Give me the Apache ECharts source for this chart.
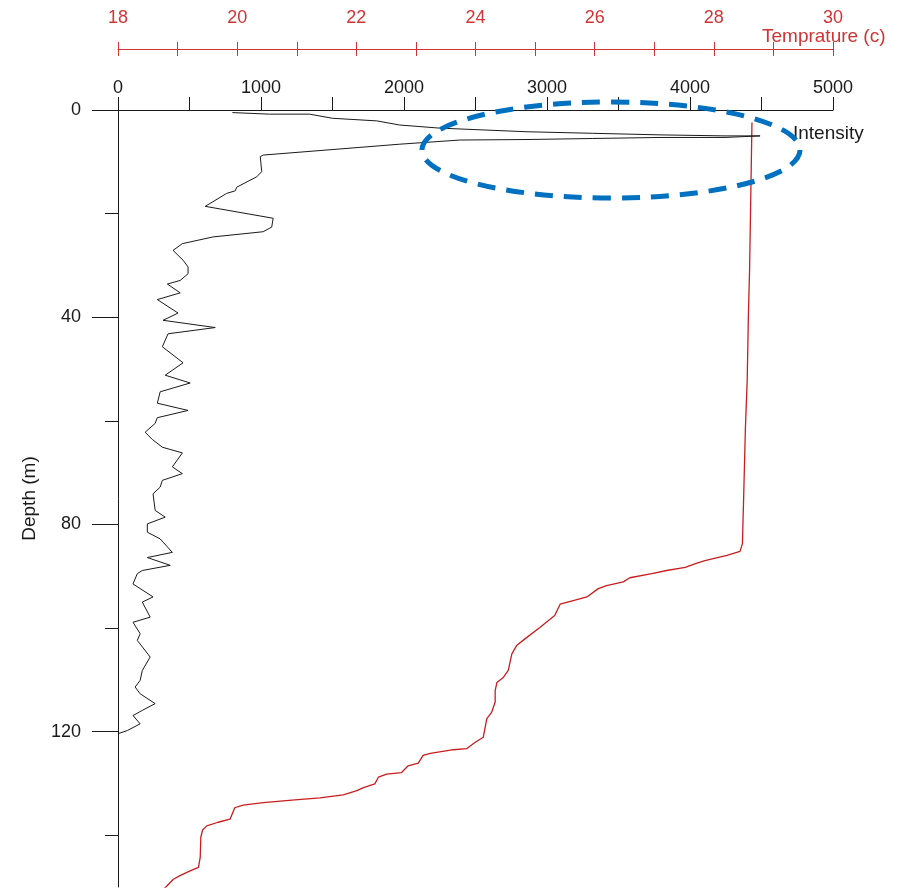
<!DOCTYPE html>
<html>
<head>
<meta charset="utf-8">
<script src="https://cdn.jsdelivr.net/npm/echarts@6/dist/echarts.min.js"></script>
<style>
html,body{margin:0;padding:0;background:#fff;}
#chart{width:908px;height:888px;}
</style>
</head>
<body>
<div id="chart"></div>
<script>
// Intensity profile (black line)
const intensityDepth = [0.5,0.8,0.8,1.6,2.1,2.9,3.5,4.2,4.5,4.8,5.0,5.0,5.3,5.3,5.5,5.7,5.8,6.6,
  8.7,9.0,11.9,12.9,14.9,15.6,16.1,18.6,20.9,22.6,23.5,24.5,25.8,27.1,29.0,30.3,31.6,32.9,
  33.6,35.3,36.6,39.2,40.6,42.0,43.2,45.7,48.8,51.2,52.7,54.4,56.6,58.0,59.4,60.5,62.2,63.6,65.1,66.2,
  68.9,70.2,71.5,72.8,74.1,77.3,78.6,79.9,81.5,82.8,85.4,86.4,87.9,88.9,89.5,91.5,94.0,95.0,97.9,98.9,
  101.1,102.4,105.6,108.2,110.1,111.4,112.7,114.6,115.9,116.9,118.5,119.8,120.4];
const intensityValue = [800,1060,1340,1500,1810,1970,2250,2860,3320,3790,4245,4490,4245,3790,3320,2860,2390,1970,
  1015,995,1005,970,830,820,760,610,1085,1075,1015,665,450,385,455,490,490,435,
  345,435,275,420,315,680,350,310,455,330,505,295,275,490,275,260,190,240,310,450,
  380,450,310,295,245,260,330,205,205,295,380,205,365,170,135,105,245,170,225,105,
  155,135,225,170,155,120,155,260,170,105,155,65,0];

// Temperature profile (red line)
const tempDepth = [2.4,16.8,30.9,39.6,52.2,61.4,75.0,79.2,83.7,85.2,
  86.0,87.0,87.6,88.3,88.9,89.5,90.3,91.1,91.8,92.4,
  94.0,94.7,95.4,97.6,98.6,99.9,102.1,103.4,105.0,108.2,
  109.5,110.5,112.1,114.3,116.3,117.5,121.1,122.1,123.3,123.5,
  124.2,124.6,126.1,126.6,127.9,128.2,128.8,130.1,130.8,131.4,
  132.2,132.8,133.2,133.7,134.2,134.7,136.9,137.5,138.2,139.0,
  140.4,144.3,146.2,146.9,147.8,148.5,149.8,150.5];
const tempValue = [28.64,28.62,28.60,28.58,28.56,28.53,28.50,28.49,28.48,28.44,
  28.22,27.85,27.68,27.52,27.21,26.96,26.59,26.48,26.20,26.06,
  25.87,25.64,25.42,25.33,25.22,25.08,24.83,24.69,24.61,24.55,
  24.47,24.36,24.33,24.33,24.27,24.19,24.13,23.99,23.85,23.63,
  23.24,23.12,23.04,22.87,22.76,22.51,22.37,22.31,22.12,22.01,
  21.78,21.39,20.97,20.44,20.10,19.96,19.88,19.68,19.49,19.42,
  19.39,19.38,19.35,19.21,19.04,18.93,18.82,18.76];

// Tick values
const depthLabelTicks = [0,40,80,120];
const depthMinorTicks = [20,60,100,140];

const FONT = "'Liberation Sans', Arial, sans-serif";
const RED = '#d23434';
const BLACK = '#1a1a1a';

const intensityData = intensityDepth.map((d,i)=>[intensityValue[i], d]);
const tempData = tempDepth.map((d,i)=>[tempValue[i], d]);

const chart = echarts.init(document.getElementById('chart'), null, {renderer:'canvas'});
chart.setOption({
  animation:false,
  backgroundColor:'#fff',
  grid:{left:118, right:75, top:110, bottom:1, containLabel:false},
  xAxis:[
    { type:'value', position:'top', min:0, max:5000, interval:500,
      name:'Intensity', nameLocation:'end', nameGap:-40,
      nameTextStyle:{color:BLACK, fontFamily:FONT, fontSize:19, verticalAlign:'top', align:'left', padding:[14,0,0,0]},
      axisLine:{show:true, onZero:false, lineStyle:{color:BLACK, width:1}},
      axisTick:{show:true, length:13, lineStyle:{color:BLACK}},
      axisLabel:{color:BLACK, fontFamily:FONT, fontSize:18, margin:13,
        formatter:v=> (v%1000===0 ? String(v) : '')},
      splitLine:{show:false}
    },
    { type:'value', position:'top', offset:61, min:18, max:30, interval:1,
      name:'Temprature (c)', nameLocation:'end', nameGap:-71,
      nameTextStyle:{color:RED, fontFamily:FONT, fontSize:19, verticalAlign:'bottom', align:'left', padding:[0,0,3,0]},
      axisLine:{show:true, onZero:false, lineStyle:{color:RED, width:1}},
      axisTick:{show:true, length:7, lineStyle:{color:RED}},
      axisLabel:{color:RED, fontFamily:FONT, fontSize:18, margin:22,
        formatter:v=> (v%2===0 ? String(v) : '')},
      splitLine:{show:false}
    },
    { type:'value', position:'top', offset:61, min:18, max:30, interval:1,
      axisLine:{show:false, onZero:false},
      axisTick:{show:true, inside:true, length:7, lineStyle:{color:RED}},
      axisLabel:{show:false},
      splitLine:{show:false}
    }
  ],
  yAxis:[
    { type:'value', position:'left', inverse:true, min:0, max:150,
      name:'Depth (m)', nameLocation:'middle', nameGap:79, nameRotate:90,
      nameTextStyle:{color:BLACK, fontFamily:FONT, fontSize:19},
      axisLine:{show:true, onZero:false, lineStyle:{color:BLACK, width:1}},
      axisTick:{show:true, length:26, customValues:depthLabelTicks, lineStyle:{color:BLACK}},
      axisLabel:{color:BLACK, fontFamily:FONT, fontSize:18, margin:37, customValues:depthLabelTicks},
      splitLine:{show:false}
    },
    { type:'value', position:'left', inverse:true, min:0, max:150,
      axisLine:{show:false, onZero:false},
      axisTick:{show:true, length:13, customValues:depthMinorTicks, lineStyle:{color:BLACK}},
      axisLabel:{show:false},
      splitLine:{show:false}
    }
  ],
  series:[
    { name:'Intensity', type:'line', xAxisIndex:0, yAxisIndex:0, data:intensityData,
      showSymbol:false, symbol:'none', lineStyle:{color:BLACK, width:1}, z:3 },
    { name:'Temperature', type:'line', xAxisIndex:1, yAxisIndex:0, data:tempData,
      showSymbol:false, symbol:'none', lineStyle:{color:'#c81e1e', width:1.3}, z:2 }
  ],
  graphic:[
    { type:'ellipse', z:100, silent:true,
      shape:{cx:611, cy:150, rx:189, ry:48},
      style:{fill:null, stroke:'#0070c0', lineWidth:5, lineDash:[18,11]} }
  ]
});
</script>
</body>
</html>
